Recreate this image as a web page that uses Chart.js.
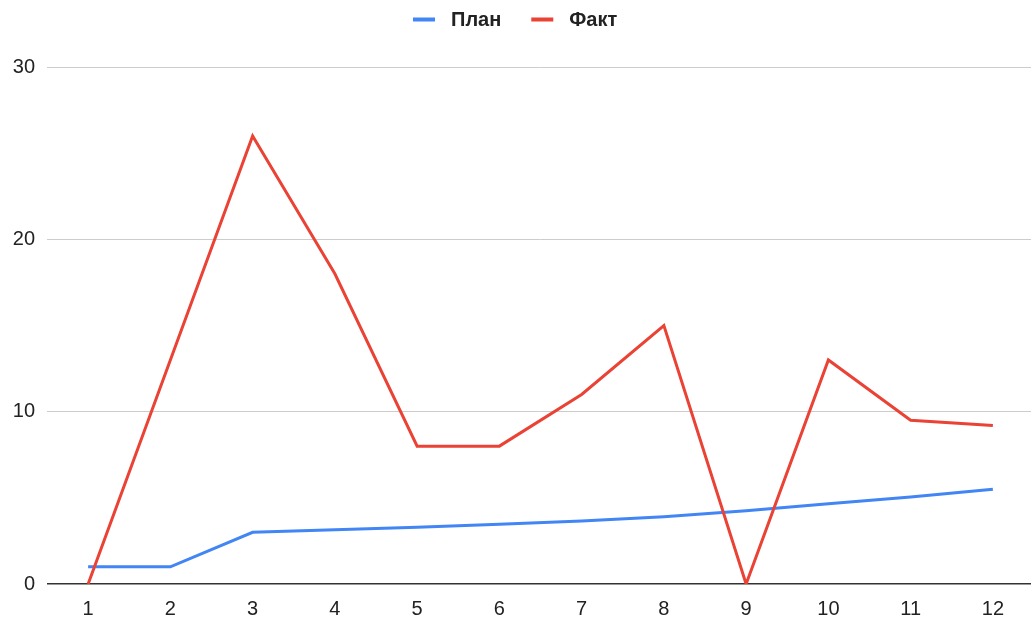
<!DOCTYPE html>
<html>
<head>
<meta charset="utf-8">
<style>
  html, body { margin: 0; padding: 0; background: #ffffff; overflow: hidden; }
  #wrap { width: 1031px; height: 619px; overflow: hidden; }
</style>
<script src="https://cdn.jsdelivr.net/npm/chart.js@4/dist/chart.umd.min.js"></script>
</head>
<body>
<div id="wrap"><canvas id="chart" width="1034" height="619"></canvas></div>
<script>
// Months 1..12
const categories = ['1', '2', '3', '4', '5', '6', '7', '8', '9', '10', '11', '12'];
// Planned values
const planValues = [1, 1, 3, 3.15, 3.3, 3.47, 3.65, 3.9, 4.25, 4.65, 5.05, 5.5];
// Actual values
const factValues = [0, 13, 26, 18, 8, 8, 11, 15, 0, 13, 9.5, 9.2];
// Y axis ticks
const yTicks = [0, 10, 20, 30];

const FONT = "'Liberation Sans', Arial, sans-serif";
const BLUE = '#4285F4';
const RED = '#EA4335';
const VISIBLE_WIDTH = 1031;

// Legend drawn at the top centre: short thick swatch, gap, bold label
const topLegend = {
  id: 'topLegend',
  afterDraw(chart) {
    const ctx = chart.ctx;
    const sets = chart.data.datasets;
    const swatch = 22, gapText = 16, gapItem = 30, cy = 19.5;
    ctx.save();
    ctx.font = 'bold 20px ' + FONT;
    const widths = sets.map(d => ctx.measureText(d.label).width);
    let total = 0;
    widths.forEach((w, i) => { total += swatch + gapText + w + (i ? gapItem : 0); });
    let x = Math.round(VISIBLE_WIDTH / 2 - total / 2);
    ctx.textBaseline = 'middle';
    ctx.textAlign = 'left';
    sets.forEach((d, i) => {
      ctx.fillStyle = d.borderColor;
      ctx.fillRect(x, cy - 2, swatch, 4);
      x += swatch + gapText;
      ctx.fillStyle = '#222222';
      ctx.fillText(d.label, x, cy + 1);
      x += widths[i] + gapItem;
    });
    ctx.restore();
  }
};

new Chart(document.getElementById('chart'), {
  type: 'line',
  data: {
    labels: categories,
    datasets: [
      { label: 'План', data: planValues, borderColor: BLUE, backgroundColor: BLUE,
        borderWidth: 3, pointRadius: 0, tension: 0, order: 2 },
      { label: 'Факт', data: factValues, borderColor: RED, backgroundColor: RED,
        borderWidth: 3, pointRadius: 0, tension: 0, order: 1 }
    ]
  },
  options: {
    responsive: false,
    animation: false,
    layout: { padding: { top: 67, left: 0, right: 0, bottom: 0 } },
    plugins: {
      legend: { display: false },
      tooltip: { enabled: false }
    },
    scales: {
      x: {
        offset: true,
        grid: { display: false, drawTicks: false },
        border: { display: false },
        ticks: { color: '#222222', font: { family: FONT, size: 20 }, padding: 13, maxRotation: 0 },
        afterFit(s) { s.height = 35; }
      },
      y: {
        min: 0,
        max: 30,
        afterBuildTicks(s) { s.ticks = yTicks.map(v => ({ value: v })); },
        grid: {
          drawTicks: false,
          color: c => (c.tick && c.tick.value === 0) ? '#333333' : '#cccccc',
          lineWidth: c => (c.tick && c.tick.value === 0) ? 1.5 : 1
        },
        border: { display: false },
        ticks: { color: '#222222', font: { family: FONT, size: 20 }, padding: 12 },
        afterFit(s) { s.width = 47; }
      }
    }
  },
  plugins: [topLegend]
});
</script>
</body>
</html>
